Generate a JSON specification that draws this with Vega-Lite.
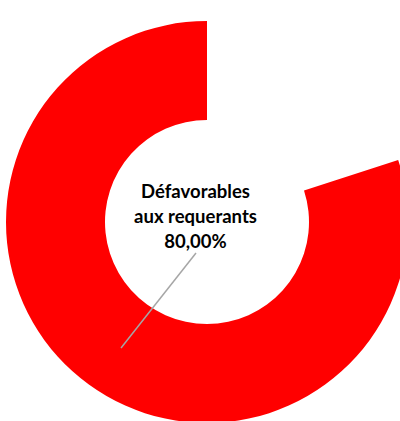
{
  "$schema": "https://vega.github.io/schema/vega-lite/v6.json",
  "width": 414,
  "height": 444,
  "padding": 0,
  "autosize": {"type": "none"},
  "background": "white",
  "config": {"view": {"stroke": null}},
  "layer": [
    {
      "data": {"values": [
        {"categorie": "Favorables aux requerants", "valeur": 20, "ordre": 1},
        {"categorie": "Défavorables aux requerants", "valeur": 80, "ordre": 2}
      ]},
      "mark": {"type": "arc", "innerRadius": 102, "outerRadius": 201},
      "encoding": {
        "theta": {"field": "valeur", "type": "quantitative", "stack": true},
        "order": {"field": "ordre", "type": "quantitative"},
        "color": {
          "field": "categorie",
          "type": "nominal",
          "scale": {"domain": ["Favorables aux requerants", "Défavorables aux requerants"], "range": ["rgba(255,255,255,0)", "#FF0000"]},
          "legend": null
        }
      }
    },
    {
      "data": {"values": [{"x": -0.055, "y": -0.155, "x2": -0.43, "y2": -0.63}]},
      "mark": {"type": "rule", "color": "#A6A6A6", "strokeWidth": 1.5},
      "encoding": {
        "x": {"field": "x", "type": "quantitative", "scale": {"domain": [-1.035, 1.035]}, "axis": null},
        "y": {"field": "y", "type": "quantitative", "scale": {"domain": [-1.11, 1.11]}, "axis": null},
        "x2": {"field": "x2"},
        "y2": {"field": "y2"}
      }
    },
    {
      "data": {"values": [{"x": -0.0575, "y": 0.148, "label": "Défavorables\naux requerants\n80,00%"}]},
      "mark": {"type": "text", "font": "Lato", "fontSize": 18.5, "fontWeight": "bold", "color": "#000000", "align": "center", "baseline": "middle", "lineBreak": "\n", "lineHeight": 25},
      "encoding": {
        "x": {"field": "x", "type": "quantitative", "scale": {"domain": [-1.035, 1.035]}, "axis": null},
        "y": {"field": "y", "type": "quantitative", "scale": {"domain": [-1.11, 1.11]}, "axis": null},
        "text": {"field": "label"}
      }
    }
  ]
}
